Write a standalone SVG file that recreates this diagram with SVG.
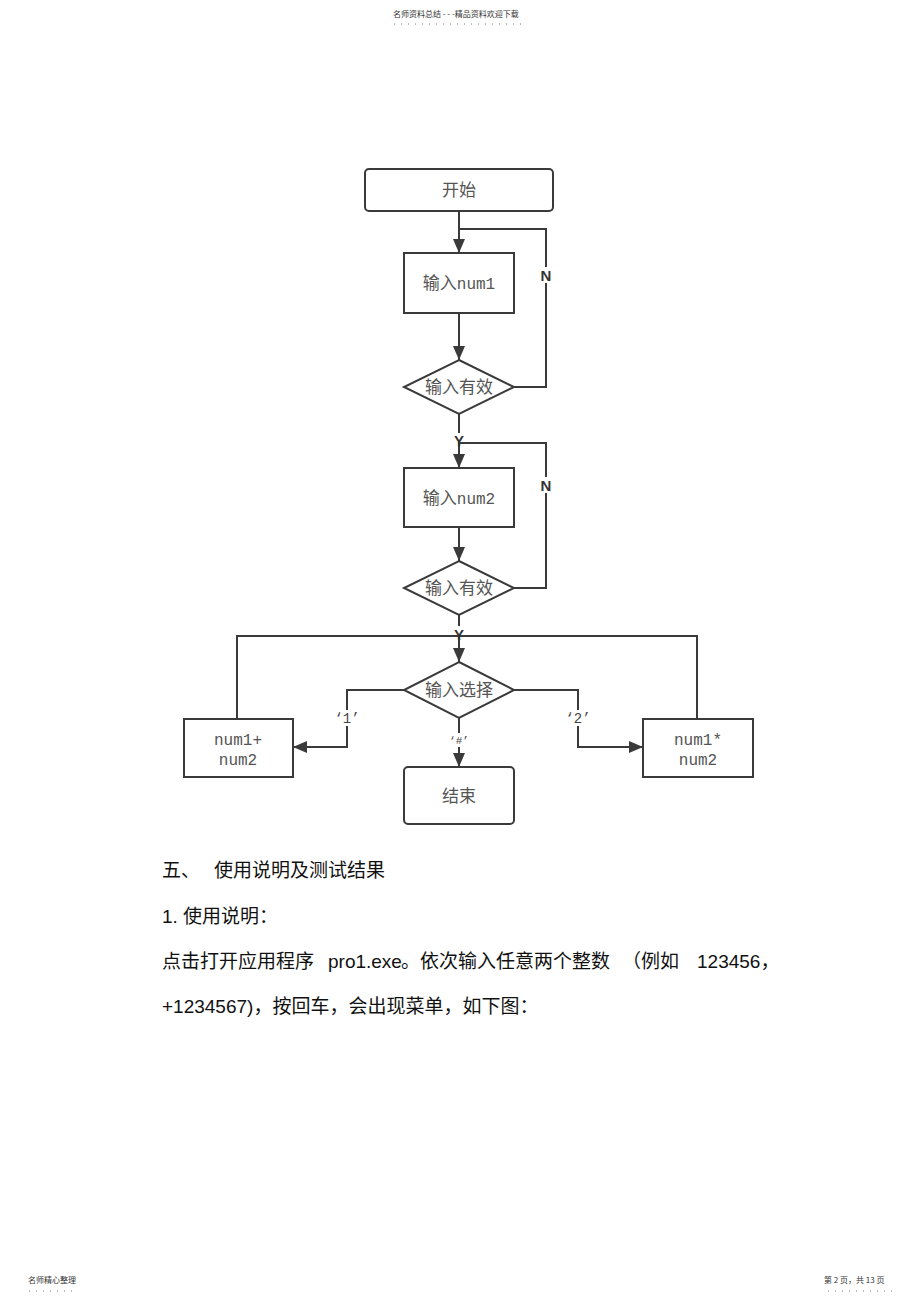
<svg xmlns="http://www.w3.org/2000/svg" width="920" height="1303" viewBox="0 0 920 1303">
<style>
.box{fill:#fff;stroke:#3a3a3a;stroke-width:2}
.ln{fill:none;stroke:#3a3a3a;stroke-width:2}
.cn{font-family:"Noto Sans CJK SC","Liberation Sans",sans-serif;font-size:17px;fill:#555;text-anchor:middle}
.mono{font-family:"Liberation Mono","Noto Sans CJK SC",monospace;font-size:16px;fill:#555;text-anchor:middle}
.lbl{font-family:"Liberation Sans",sans-serif;font-size:15px;font-weight:bold;fill:#333;text-anchor:middle}
.q{font-family:"Liberation Mono",monospace;font-size:14px;fill:#444;text-anchor:middle}
.body{font-family:"Liberation Sans","Noto Sans CJK SC",sans-serif;font-size:19px;fill:#111}
.tiny{font-family:"Noto Sans CJK SC",sans-serif;font-size:8px;fill:#333}
.dots{stroke:#777;stroke-width:1;stroke-dasharray:1 6}
</style>
<defs>
<marker id="arw" viewBox="0 0 14 12" refX="14" refY="6" markerWidth="14" markerHeight="12" markerUnits="userSpaceOnUse" orient="auto">
<path d="M0,0 L14,6 L0,12 z" fill="#3a3a3a"/>
</marker>
</defs>

<g id="header">
<text class="tiny" x="393" y="17">名师资料总结 - - -精品资料欢迎下载</text>
<line class="dots" x1="394" y1="24" x2="524" y2="24"/>
</g>

<g id="connectors">
<path class="ln" d="M459,211 V253" marker-end="url(#arw)"/>
<path class="ln" d="M514,387 H546 V229 H459"/>
<path class="ln" d="M459,313 V360" marker-end="url(#arw)"/>
<path class="ln" d="M459,414 V468" marker-end="url(#arw)"/>
<path class="ln" d="M514,588 H546 V443 H459"/>
<path class="ln" d="M459,527 V561" marker-end="url(#arw)"/>
<path class="ln" d="M459,615 V662" marker-end="url(#arw)"/>
<path class="ln" d="M237,719 V636 H697 V719"/>
<path class="ln" d="M404,690 H347 V747 H293" marker-end="url(#arw)"/>
<path class="ln" d="M514,690 H578 V747 H643" marker-end="url(#arw)"/>
<path class="ln" d="M459,718 V767" marker-end="url(#arw)"/>
<rect x="539" y="267" width="14" height="16" fill="#fff"/>
<text class="lbl" x="546" y="281">N</text>
<rect x="539" y="477" width="14" height="16" fill="#fff"/>
<text class="lbl" x="546" y="491">N</text>
<rect x="452" y="433" width="14" height="9" fill="#fff"/>
<text class="lbl" x="459" y="446">Y</text>
<rect x="452" y="626" width="14" height="9" fill="#fff"/>
<text class="lbl" x="459" y="640">Y</text>
<rect x="334" y="710" width="26" height="16" fill="#fff"/>
<text class="q" x="347" y="723">‘1’</text>
<rect x="565" y="710" width="26" height="16" fill="#fff"/>
<text class="q" x="578" y="723">‘2’</text>
<rect x="448" y="733" width="22" height="14" fill="#fff"/>
<text class="q" x="459" y="744" style="font-size:11px">‘#’</text>
</g>

<g id="start">
<rect class="box" x="365" y="169" width="188" height="42" rx="4"/>
<text class="cn" x="459" y="196">开始</text>
</g>
<g id="input1">
<rect class="box" x="404" y="253" width="110" height="60"/>
<text class="cn" x="459" y="289"><tspan>输入</tspan><tspan class="mono" style="text-anchor:start">num1</tspan></text>
</g>
<g id="valid1">
<polygon class="box" points="459,360 514,387 459,414 404,387"/>
<text class="cn" x="459" y="393">输入有效</text>
</g>
<g id="input2">
<rect class="box" x="404" y="468" width="110" height="59"/>
<text class="cn" x="459" y="504"><tspan>输入</tspan><tspan class="mono" style="text-anchor:start">num2</tspan></text>
</g>
<g id="valid2">
<polygon class="box" points="459,561 514,588 459,615 404,588"/>
<text class="cn" x="459" y="594">输入有效</text>
</g>
<g id="choice">
<polygon class="box" points="459,662 514,690 459,718 404,690"/>
<text class="cn" x="459" y="696">输入选择</text>
</g>
<g id="add">
<rect class="box" x="184" y="719" width="109" height="58"/>
<text class="mono" x="238" y="745">num1+</text>
<text class="mono" x="238" y="765">num2</text>
</g>
<g id="mul">
<rect class="box" x="643" y="719" width="110" height="58"/>
<text class="mono" x="698" y="745">num1*</text>
<text class="mono" x="698" y="765">num2</text>
</g>
<g id="end">
<rect class="box" x="404" y="767" width="110" height="57" rx="4"/>
<text class="cn" x="459" y="802">结束</text>
</g>

<g id="text">
<text class="body" x="162" y="877">五、</text>
<text class="body" x="214" y="877">使用说明及测试结果</text>
<text class="body" x="162" y="923">1. 使用说明：</text>
<text class="body" x="162" y="968">点击打开应用程序</text>
<text class="body" x="328" y="968">pro1.exe</text>
<text class="body" x="401" y="968">。依次输入任意两个整数</text>
<text class="body" x="622" y="968">（例如</text>
<text class="body" x="697" y="968">123456，</text>
<text class="body" x="162" y="1013">+1234567)，按回车，会出现菜单，如下图：</text>
</g>

<g id="footer">
<text class="tiny" x="28" y="1283">名师精心整理</text>
<line class="dots" x1="29" y1="1291" x2="78" y2="1291"/>
<text class="tiny" x="824" y="1283">第 2 页，共 13 页</text>
<line class="dots" x1="828" y1="1291" x2="892" y2="1291"/>
</g>
</svg>
